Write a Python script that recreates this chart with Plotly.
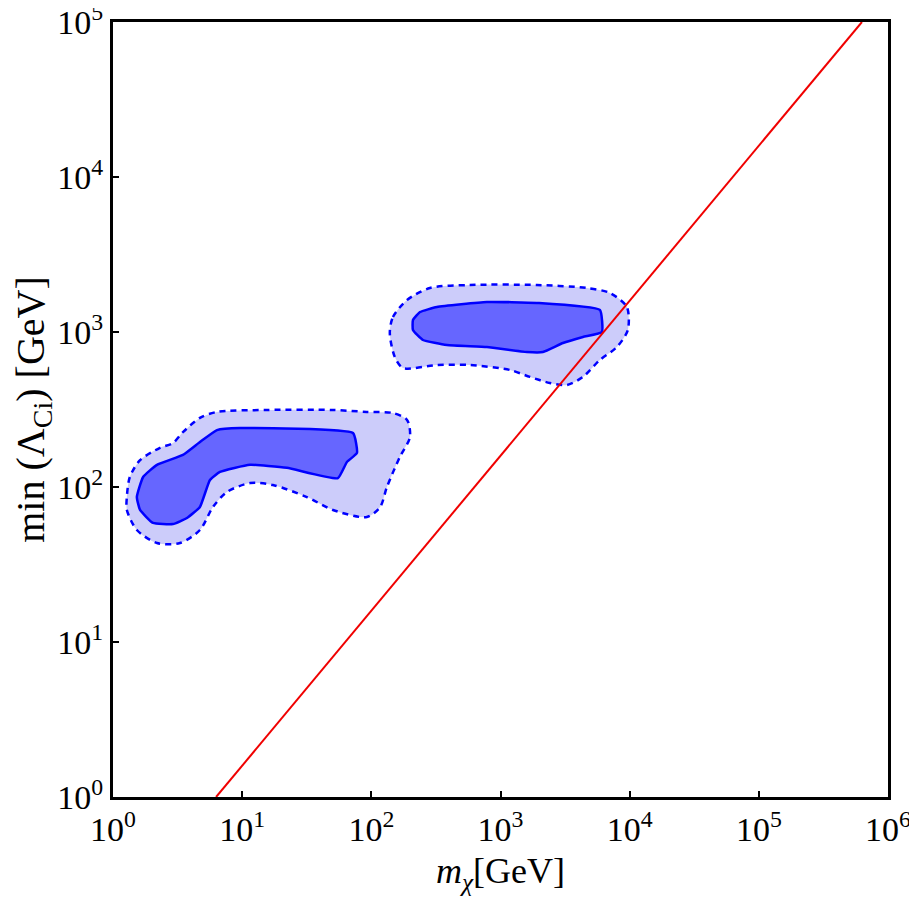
import plotly.graph_objects as go

# left region, 2 sigma (outer, dashed)
left_outer_m = [1.28, 1.28, 1.53, 2.19, 3.30, 4.71, 5.94, 7.63, 11.5, 17.3, 31.7, 50.4,
                92.4, 117, 132, 166, 199, 189, 147, 92.4, 50.4, 15.6, 6.38, 4.71,
                3.48, 2.91, 2.31, 1.62, 1.35]
left_outer_lam = [86.1, 71.1, 52.8, 43.5, 43.5, 52.8, 74.3, 92.9, 106, 103, 86.1, 71.1,
                  64.0, 74.3, 100, 156, 210, 271, 300, 305, 314, 314, 305, 279,
                  226, 192, 179, 149, 116]

# left region, 1 sigma (inner, solid)
left_inner_m = [2.04, 1.62, 1.53, 1.71, 2.19, 3.48, 4.71, 6.38, 9.62, 72.1, 77.4, 64.7,
                55.1, 22.2, 11.5, 6.73, 5.63, 4.71, 3.74, 2.91]
left_inner_lam = [58.6, 71.1, 86.1, 116, 139, 161, 195, 233, 240, 223, 166, 145,
                  114, 133, 139, 125, 111, 74.3, 63.1, 57.7]

# right region, 2 sigma
right_outer_m = [139, 147, 189, 284, 580, 1914, 4667, 7030, 9510, 9680, 7960, 5880,
                 4345, 3266, 2410, 1690, 1183, 580, 322, 176, 152]
right_outer_lam = [986, 1250, 1608, 1922, 2010, 2010, 1922, 1785, 1450, 1030, 800, 660,
                   513, 455, 469, 513, 569, 612, 612, 586, 690]

# right region, 1 sigma
right_inner_m = [210, 238, 322, 785, 1914, 5880, 6095, 4345, 3042, 2130, 1600, 785,
                 385, 251, 210]
right_inner_lam = [1195, 1345, 1450, 1563, 1540, 1387, 1000, 929, 849, 743, 743, 800,
                   824, 888, 1030]

# bound Lambda = m / (2 pi)
bound_m = [6.283, 628300]
bound_lam = [1, 100000]

light = "rgb(204,204,250)"
dark = "rgb(102,102,255)"
blue = "rgb(0,0,255)"

fig = go.Figure()


def closed(xs, ys):
    return xs + xs[:1], ys + ys[:1]


for xs, ys in [(left_outer_m, left_outer_lam), (right_outer_m, right_outer_lam)]:
    x, y = closed(xs, ys)
    fig.add_trace(go.Scatter(
        x=x, y=y, mode="lines", fill="toself", fillcolor=light,
        line=dict(color=blue, width=2.5, dash="6px,5px", shape="spline", smoothing=0.8),
        showlegend=False, hoverinfo="skip"
    ))

for xs, ys in [(left_inner_m, left_inner_lam), (right_inner_m, right_inner_lam)]:
    x, y = closed(xs, ys)
    fig.add_trace(go.Scatter(
        x=x, y=y, mode="lines", fill="toself", fillcolor=dark,
        line=dict(color=blue, width=2.5, shape="spline", smoothing=0.4),
        showlegend=False, hoverinfo="skip"
    ))

fig.add_trace(go.Scatter(
    x=bound_m, y=bound_lam, mode="lines",
    line=dict(color="rgb(240,0,0)", width=2),
    showlegend=False, hoverinfo="skip"
))

xt = [10 ** i for i in range(7)]
yt = [10 ** i for i in range(6)]
serif = "Liberation Serif"

axis_common = dict(
    type="log", ticks="inside", ticklen=6, tickwidth=2, tickcolor="black",
    showline=True, linecolor="black", linewidth=3, mirror=True,
    showgrid=False, zeroline=False, automargin=False,
    ticklabeloverflow="allow",
    tickfont=dict(family=serif, size=34, color="black"),
)

# the page body adds an 8px offset, margins are set to compensate
fig.update_layout(
    width=901, height=892,
    margin=dict(l=105, r=21, t=14, b=103),
    plot_bgcolor="white", paper_bgcolor="white",
    font=dict(family=serif, size=34, color="black"),
    xaxis=dict(
        axis_common, range=[0, 6],
        tickvals=xt, ticktext=["10<sup>%d</sup>" % i for i in range(7)],
        title=dict(text="<i>m</i><sub><i>χ</i></sub>[GeV]",
                   font=dict(family=serif, size=36), standoff=12),
    ),
    yaxis=dict(
        axis_common, range=[0, 5],
        tickvals=yt, ticktext=["10<sup>%d</sup>" % i for i in range(6)],
        title=dict(text="min (Λ<sub>Ci</sub>) [GeV]",
                   font=dict(family=serif, size=40), standoff=2),
    ),
)

fig.write_html("out.html")
